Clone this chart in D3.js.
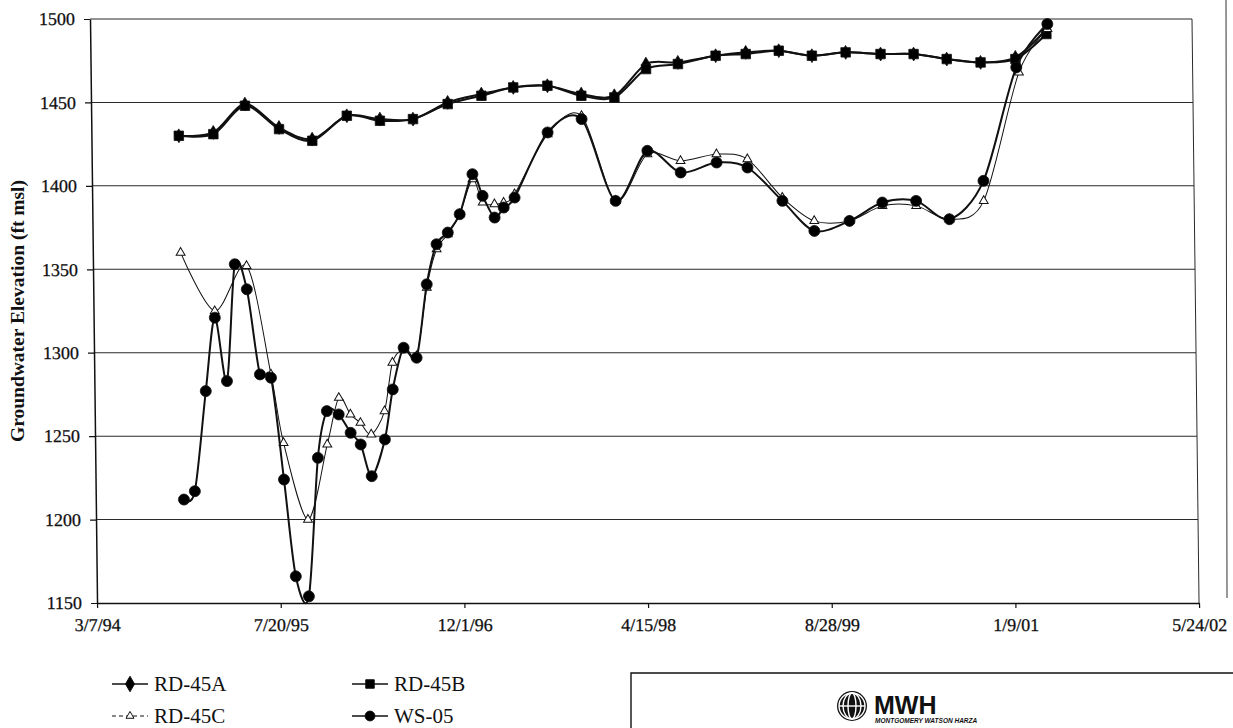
<!DOCTYPE html>
<html>
<head>
<meta charset="utf-8">
<script src="https://cdn.jsdelivr.net/npm/d3@7"></script>
<style>
  body { margin: 0; background: #fff; }
  svg { display: block; }
  text { font-family: "Liberation Serif", "Times New Roman", serif; fill: #111; }
</style>
</head>
<body>
<div id="chart-container"></div>
<script>
// Tick labels
const xTickLabels = ["3/7/94", "7/20/95", "12/1/96", "4/15/98", "8/28/99", "1/9/01", "5/24/02"];
const yTickValues = [1150, 1200, 1250, 1300, 1350, 1400, 1450, 1500];

// RD-45A and RD-45B share the quarterly sampling dates
const datesAB = ["1994-10-31","1995-02-02","1995-04-30","1995-07-31","1995-10-29","1996-02-01","1996-05-01",
  "1996-07-30","1996-11-02","1997-02-02","1997-04-30","1997-08-01","1997-11-01","1998-01-30","1998-04-27",
  "1998-07-23","1998-11-03","1999-01-24","1999-04-24","1999-07-23","1999-10-23","2000-01-26","2000-04-25",
  "2000-07-24","2000-10-24","2001-01-27","2001-04-22"];
const rd45a = [1430,1432,1449,1435,1428,1442,1440,1440,1450,1455,1459,1460,1455,1454,1473,1474,1478,1480,
  1481,1478,1480,1479,1479,1476,1474,1477,1494];
const rd45b = [1430,1431,1448,1434,1427,1442,1439,1440,1449,1454,1459,1460,1454,1453,1470,1473,1478,1479,
  1481,1478,1480,1479,1479,1476,1474,1476,1491];

const datesC = ["1994-11-01","1995-01-31","1995-04-29","1995-07-01","1995-08-02","1995-10-05","1995-11-29",
  "1996-01-01","1996-02-01","1996-02-28","1996-03-28","1996-05-04","1996-05-27","1996-06-27","1996-08-01",
  "1996-08-31","1996-09-28","1996-10-29","1996-12-01","1997-01-06","1997-02-02","1997-03-06","1997-03-31",
  "1997-04-30","1997-07-31","1997-11-01","1998-01-30","1998-04-28","1998-07-27","1998-11-02","1999-01-25",
  "1999-04-29","1999-07-24","1999-10-28","2000-01-26","2000-04-27","2000-07-26","2000-10-28","2001-02-05",
  "2001-04-25"];
const rd45c = [1360,1325,1352,1287,1246,1200,1245,1273,1263,1258,1251,1265,1294,1302,1298,1339,1362,1371,
  1383,1404,1390,1389,1390,1395,1431,1442,1391,1419,1415,1419,1416,1393,1379,1379,1388,1388,1380,1391,
  1468,1494];

const datesWS = ["1994-11-02","1994-12-02","1995-01-04","1995-01-31","1995-03-03","1995-03-28","1995-04-29",
  "1995-06-01","1995-07-01","1995-08-02","1995-08-31","1995-10-05","1995-11-03","1995-11-29","1995-12-31",
  "1996-02-01","1996-02-28","1996-03-28","1996-05-04","1996-05-27","1996-06-27","1996-08-01","1996-08-31",
  "1996-09-28","1996-10-29","1996-12-01","1997-01-06","1997-02-02","1997-03-06","1997-03-31","1997-04-30",
  "1997-07-31","1997-11-01","1998-01-30","1998-04-28","1998-07-27","1998-11-02","1999-01-25","1999-04-29",
  "1999-07-24","1999-10-28","2000-01-26","2000-04-27","2000-07-26","2000-10-28","2001-01-29","2001-04-25"];
const ws05 = [1212,1217,1277,1321,1283,1353,1338,1287,1285,1224,1166,1154,1237,1265,1263,1252,1245,1226,
  1248,1278,1303,1297,1341,1365,1372,1383,1407,1394,1381,1387,1393,1432,1440,1391,1421,1408,1414,1411,
  1391,1373,1379,1390,1391,1380,1403,1471,1497];

const parseDate = d3.timeParse("%Y-%m-%d");
const parseTick = d3.timeParse("%m/%d/%y");

const series = [
  { name: "RD-45A", dates: datesAB, values: rd45a, symbol: d3.symbolDiamond, size: 55, width: 2, fill: "#000" },
  { name: "RD-45B", dates: datesAB, values: rd45b, symbol: d3.symbolSquare, size: 90, width: 2, fill: "#000" },
  { name: "RD-45C", dates: datesC, values: rd45c, symbol: d3.symbolTriangle, size: 34, width: 1, fill: "#fff" },
  { name: "WS-05", dates: datesWS, values: ws05, symbol: d3.symbolCircle, size: 95, width: 2, fill: "#000" }
];

const W = 1233, H = 728;
const margin = { top: 19, left: 90 };
const width = 1102, height = 584;

const svg = d3.select("#chart-container").append("svg")
    .attr("width", W)
    .attr("height", H);

// the scan is slightly sheared, so the plot group gets a small skew
const g = svg.append("g")
    .attr("transform", "translate(" + margin.left + "," + margin.top + ") skewX(0.69)");

const tickDates = xTickLabels.map(parseTick);
const x = d3.scaleTime()
    .domain([tickDates[0], tickDates[tickDates.length - 1]])
    .range([0, width]);

const y = d3.scaleLinear()
    .domain([1150, 1500])
    .range([height, 0]);

// horizontal grid lines
g.selectAll(".grid")
    .data(yTickValues.filter(v => v > 1150))
    .enter().append("line")
    .attr("x1", 0)
    .attr("x2", width)
    .attr("y1", d => y(d))
    .attr("y2", d => y(d))
    .attr("stroke", "#2a2a2a")
    .attr("stroke-width", 1);

// right border of the plot
g.append("line")
    .attr("x1", width).attr("x2", width)
    .attr("y1", 0).attr("y2", height)
    .attr("stroke", "#2a2a2a").attr("stroke-width", 1);

// axes
const xAxis = g.append("g")
    .attr("transform", "translate(0," + height + ")")
    .call(d3.axisBottom(x)
        .tickValues(tickDates)
        .tickFormat((d, i) => xTickLabels[i])
        .tickSize(5)
        .tickSizeOuter(0)
        .tickPadding(10));

const yAxis = g.append("g")
    .call(d3.axisLeft(y)
        .tickValues(yTickValues)
        .tickFormat(d3.format("d"))
        .tickSize(6)
        .tickSizeOuter(0)
        .tickPadding(9));

[xAxis, yAxis].forEach(a => {
    a.select(".domain").attr("stroke", "#111").attr("stroke-width", 1.5);
    a.selectAll(".tick line").attr("stroke", "#111").attr("stroke-width", 1.2);
    a.selectAll(".tick text")
        .style("font-family", "'Liberation Serif', serif")
        .style("font-size", "18px")
        .attr("fill", "#111")
        .attr("stroke", "#111")
        .attr("stroke-width", 0.3);
});

// y axis title
svg.append("text")
    .attr("transform", "translate(24,311) rotate(-90)")
    .attr("text-anchor", "middle")
    .style("font-size", "19.5px")
    .style("font-weight", "bold")
    .text("Groundwater Elevation (ft msl)");

// series lines and markers
const line = d3.line()
    .x(d => x(d.date))
    .y(d => y(d.value))
    .curve(d3.curveCardinal.tension(0.1));

series.forEach(s => {
    const pts = s.dates.map((d, i) => ({ date: parseDate(d), value: s.values[i] }));
    g.append("path")
        .datum(pts)
        .attr("fill", "none")
        .attr("stroke", "#111")
        .attr("stroke-width", s.width)
        .attr("d", line);
    g.selectAll(".m-" + s.name)
        .data(pts)
        .enter().append("path")
        .attr("transform", d => "translate(" + x(d.date) + "," + y(d.value) + ")")
        .attr("d", d3.symbol().type(s.symbol).size(s.size))
        .attr("fill", s.fill)
        .attr("stroke", "#111")
        .attr("stroke-width", s.name === "RD-45C" ? 1 : 0.8);
});

// legend
const legendPos = [[112, 684], [352, 684], [112, 716], [352, 716]];
series.forEach((s, i) => {
    const lg = svg.append("g")
        .attr("transform", "translate(" + legendPos[i][0] + "," + legendPos[i][1] + ")");
    lg.append("line")
        .attr("x1", 0).attr("x2", 36)
        .attr("stroke", "#111")
        .attr("stroke-width", s.name === "RD-45C" ? 1 : 1.6)
        .attr("stroke-dasharray", s.name === "RD-45C" ? "4,3" : null);
    lg.append("path")
        .attr("transform", "translate(18,0)")
        .attr("d", d3.symbol().type(s.symbol).size(s.name === "RD-45A" ? 70 : s.size * 0.8))
        .attr("fill", s.fill)
        .attr("stroke", "#111")
        .attr("stroke-width", 1);
    lg.append("text")
        .attr("x", 42)
        .attr("y", 7)
        .style("font-size", "21px")
        .text(s.name);
});

// page edge line on the right
svg.append("line")
    .attr("x1", 1226).attr("x2", 1227)
    .attr("y1", 0).attr("y2", 598)
    .attr("stroke", "#333").attr("stroke-width", 1);

// title block with the MWH logo
svg.append("path")
    .attr("d", "M631,728 V673 H1233")
    .attr("fill", "none")
    .attr("stroke", "#111")
    .attr("stroke-width", 1.4);

const logo = svg.append("g").attr("transform", "translate(852,706)");
logo.append("circle").attr("r", 15).attr("fill", "#111");
[4, 9, 13].forEach(rx => {
    logo.append("ellipse")
        .attr("rx", rx).attr("ry", 13)
        .attr("fill", "none").attr("stroke", "#fff").attr("stroke-width", 1.4);
});
logo.append("line").attr("x1", -13).attr("x2", 13)
    .attr("stroke", "#fff").attr("stroke-width", 1.4);

svg.append("text")
    .attr("x", 874).attr("y", 714)
    .style("font-family", "'Liberation Sans', Arial, sans-serif")
    .style("font-size", "25px")
    .style("font-weight", "bold")
    .text("MWH");

svg.append("text")
    .attr("x", 875).attr("y", 723)
    .style("font-family", "'Liberation Sans', Arial, sans-serif")
    .style("font-size", "6.5px")
    .style("font-weight", "bold")
    .style("font-style", "italic")
    .text("MONTGOMERY WATSON HARZA");
</script>
</body>
</html>
